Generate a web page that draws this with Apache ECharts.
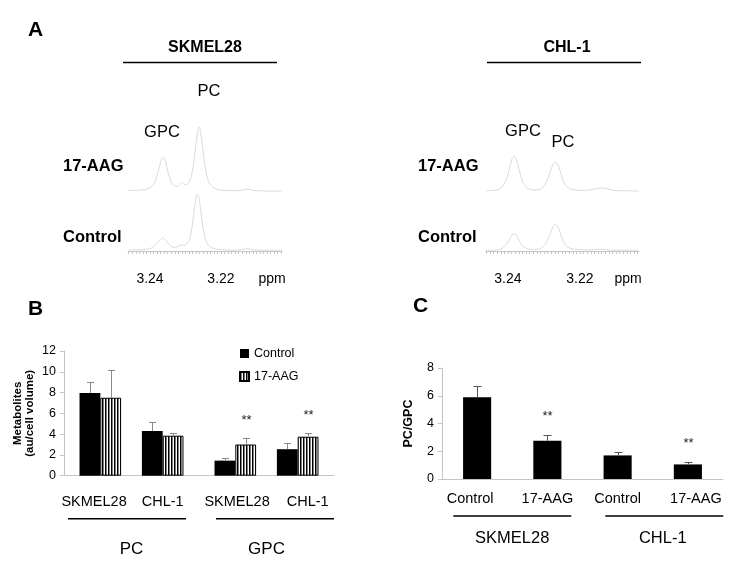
<!DOCTYPE html>
<html><head><meta charset="utf-8">
<script src="https://cdn.jsdelivr.net/npm/echarts@6/dist/echarts.min.js"></script>
<style>html,body{margin:0;padding:0;background:#fff}#c{width:750px;height:563px}</style>
</head><body><div id="c"></div>
<script>
const FONT = '"Liberation Sans", Arial, Helvetica, sans-serif';

// ---------- Panel A : 1H-NMR spectra (ppm, intensity a.u.) ----------
const skPpm = [3.24620,3.24423,3.24225,3.24056,3.23944,3.23859,3.23775,3.23718,3.23662,3.23634,3.23606,3.23549,3.23493,3.23408,3.23324,3.23239,3.23155,3.23099,3.23042,3.22986,3.22901,3.22845,3.22789,3.22732,3.22676,3.22648,3.22620,3.22592,3.22563,3.22507,3.22451,3.22366,3.22254,3.22085,3.21887,3.21606,3.21380,3.21239,3.21099,3.20845,3.20563,3.20282];
const skAAG  = [2,2,2.5,4,7,13,25,35,42,44,43,36,25,13,8,7,10,12,10,9,12,18,30,50,70,78,81,79,72,52,33,15,7,3,2,1.5,2.5,3.5,2,1.5,1,1.5];
const skCtrl = [1,1.5,1.5,2.5,4,7,11,14,16,16,15.5,13,10,6,4.5,5,7,8,7,8,13,22,38,58,71,70,66,58,48,30,17,8,4,2,1.5,1,2,3,1.5,1,1,1];
const chlPpm = [3.24611,3.24444,3.24278,3.24167,3.24083,3.24000,3.23944,3.23889,3.23833,3.23778,3.23722,3.23667,3.23583,3.23472,3.23361,3.23222,3.23083,3.22972,3.22889,3.22806,3.22750,3.22694,3.22667,3.22639,3.22583,3.22528,3.22472,3.22389,3.22278,3.22111,3.21889,3.21667,3.21500,3.21389,3.21278,3.21111,3.20889,3.20611,3.20361];
const chlAAG  = [1.5,2,3,6,12,22,32,41,44.5,42,34,24,12,5,3,2.5,4,9,17,28,34,37,37,36,31,23,15,8,4,2.5,2,3,4.5,5,4.5,2.5,1.5,1.5,1];
const chlCtrl = [1,1,1.5,3,6,11,16,20,21.5,20.5,16,11,6,3,2,2,3.5,8,15,24,30,33,33,32,27,20,13,7,3.5,2,1.5,1.5,2,2,1.5,1,1,1,1];
const ppmTickLabels = [3.24, 3.22];
const skRange = [3.2028, 3.2462];
const chlRange = [3.2036, 3.2461];

// ---------- Panel B : metabolites (au/cell volume) ----------
const bMetabolites = ['PC', 'GPC'];
const bCellLines = ['SKMEL28', 'CHL-1'];
const skControl = [7.95, 1.45],  skControlErr = [1.1, 0.3];
const sk17AAG   = [7.5, 3.0],    sk17AAGErr   = [2.65, 0.6];
const chlControl = [4.3, 2.55],  chlControlErr = [0.9, 0.55];
const chl17AAG   = [3.85, 3.75], chl17AAGErr   = [0.3, 0.35];
const sk17AAGSig  = ['', '**'];
const chl17AAGSig = ['', '**'];
const bYTicks = [0, 2, 4, 6, 8, 10, 12];

// ---------- Panel C : PC/GPC ratio ----------
const cTreatments = ['Control', '17-AAG', 'Control', '17-AAG'];
const cCellLines = ['SKMEL28', 'CHL-1'];
const cRatio = [5.9, 2.75, 1.7, 1.05];
const cRatioErr = [0.8, 0.45, 0.25, 0.15];
const cSig = ['', '**', '', '**'];

// minor ppm ticks every 0.001
const ppmMinorTicks = [];
for (let k = 3203; k <= 3246; k++) ppmMinorTicks.push(k / 1000);

const stripe = (() => {
  const c = document.createElement('canvas'); c.width = 3; c.height = 6;
  const g = c.getContext('2d');
  g.fillStyle = '#fff'; g.fillRect(0, 0, 3, 6);
  g.fillStyle = '#000'; g.fillRect(0, 0, 1.5, 6);
  return c;
})();

const zip = (xs, ys) => xs.map((x, i) => [x, ys[i]]);
const AX = '#c4c4c4';

function specX(gi, range, visible) {
  const a = { type: 'value', gridIndex: gi, min: range[0], max: range[1], inverse: true, show: visible };
  if (visible) Object.assign(a, {
    offset: 10,
    axisLine: { show: true, lineStyle: { color: AX, width: 1 } },
    axisTick: { show: true, length: 3, customValues: ppmMinorTicks, lineStyle: { color: AX } },
    axisLabel: { show: true, customValues: ppmTickLabels, formatter: v => v.toFixed(2), fontSize: 14, color: '#000', margin: 11, fontFamily: FONT },
    splitLine: { show: false }
  });
  return a;
}
function specY(gi) { return { type: 'value', gridIndex: gi, min: 0, max: 100, show: false }; }
function specLine(name, ai, ppm, vals) {
  return { type: 'line', name, xAxisIndex: ai, yAxisIndex: ai, data: zip(ppm, vals), showSymbol: false,
    smooth: 0.3, lineStyle: { color: '#dadada', width: 1 }, silent: true };
}
function barB(name, data) {
  return { type: 'bar', name, xAxisIndex: 4, yAxisIndex: 4, data, barGap: '0%', barCategoryGap: '23%',
    itemStyle: name === '17-AAG' ? { color: { image: stripe, repeat: 'repeat' }, borderColor: '#000', borderWidth: 1 } : { color: '#000' } };
}
function errSeries(ai, vals, errs, sigs, slot, nSlots, gap, color, capW, starGap) {
  return {
    type: 'custom', name: 'err' + ai + '_' + slot, xAxisIndex: ai, yAxisIndex: ai, silent: true, z: 5,
    data: vals.map((v, i) => [i, v, errs[i]]),
    renderItem(params, api) {
      const ci = api.value(0), v = api.value(1), e = api.value(2);
      const p0 = api.coord([ci, v]), p1 = api.coord([ci, v + e]);
      const band = api.size([1, 0])[0];
      const total = band * (1 - gap), bw = total / nSlots;
      const x = Math.round(p0[0] - total / 2 + (slot + 0.5) * bw) + 0.5;
      const yt = Math.round(p1[1]) + 0.5;
      const ch = [
        { type: 'line', shape: { x1: x, y1: p0[1], x2: x, y2: yt }, style: { stroke: color, lineWidth: 1 } },
        { type: 'line', shape: { x1: x - capW / 2, y1: yt, x2: x + capW / 2, y2: yt }, style: { stroke: color, lineWidth: 1 } }
      ];
      const s = sigs && sigs[params.dataIndex];
      if (s) ch.push({ type: 'text', x: x, y: yt - starGap, style: { text: s, fill: '#222', fontSize: 13, fontFamily: FONT, align: 'center', verticalAlign: 'middle' } });
      return { type: 'group', children: ch };
    }
  };
}
function txt(text, x, y, size, bold, align) {
  return { type: 'text', x, y, silent: true, style: { text, fontSize: size, fontWeight: bold ? 'bold' : 'normal', fontFamily: FONT, fill: '#000', align: align || 'center', verticalAlign: 'middle' } };
}
function hline(x1, x2, y) {
  return { type: 'line', silent: true, shape: { x1, y1: y, x2, y2: y }, style: { stroke: '#000', lineWidth: 1.5 } };
}

const option = {
  animation: false,
  backgroundColor: '#fff',
  textStyle: { fontFamily: FONT },
  grid: [
    { left: 128, top: 112, width: 154, height: 80 },
    { left: 128, top: 171, width: 154, height: 80 },
    { left: 486, top: 112, width: 153, height: 80 },
    { left: 486, top: 171, width: 153, height: 80 },
    { left: 64, top: 351, width: 270, height: 124.7 },
    { left: 442, top: 368, width: 281, height: 111 }
  ],
  xAxis: [
    specX(0, skRange, false), specX(1, skRange, true), specX(2, chlRange, false), specX(3, chlRange, true),
    {
      type: 'category', gridIndex: 4, data: bMetabolites,
      axisLine: { lineStyle: { color: AX } }, axisTick: { length: 4, lineStyle: { color: AX } },
      axisLabel: {
        interval: 0, margin: 13, color: '#000',
        formatter: (v, i) => i === 0
          ? `{cl|${bCellLines[0]}}{g15|}{cl|${bCellLines[1]}}{p18|}\n{hr|}{p9|}\n{grp|${v}}`
          : `{cl|${bCellLines[0]}}{g17|}{cl|${bCellLines[1]}}\n{p17|}{hr|}\n{grp|${v}}`,
        rich: {
          cl: { fontSize: 14.5, lineHeight: 26, color: '#000', fontFamily: FONT },
          g15: { width: 15, lineHeight: 26 }, g17: { width: 17, lineHeight: 26 }, p18: { width: 18, lineHeight: 26 },
          hr: { width: 118, height: 1.5, lineHeight: 8, backgroundColor: '#000' },
          p9: { width: 9, height: 1, lineHeight: 8 }, p17: { width: 17, height: 1, lineHeight: 8 },
          grp: { fontSize: 17, lineHeight: 54, color: '#000', fontFamily: FONT }
        }
      }
    },
    {
      type: 'category', gridIndex: 5, data: cTreatments,
      axisLine: { lineStyle: { color: AX } }, axisTick: { length: 4, lineStyle: { color: AX } },
      axisLabel: {
        interval: 0, margin: 10, color: '#000',
        formatter: (v, i) => i === 0 ? `{t|${v}}{p14|}` : i === 3 ? `{p16|}{t|${v}}` : `{t|${v}}`,
        rich: {
          t: { fontSize: 14.5, lineHeight: 20, color: '#000', fontFamily: FONT },
          p14: { width: 14, lineHeight: 20 }, p16: { width: 16, lineHeight: 20 }
        }
      }
    },
    {
      type: 'category', gridIndex: 5, data: cCellLines, position: 'bottom', offset: 0,
      axisLine: { show: false }, axisTick: { show: false },
      axisLabel: {
        interval: 0, margin: 33, color: '#000',
        formatter: (v, i) => i === 0 ? `{hr|}\n{g|${v}}` : `{p23|}{hr|}\n{p20|}{g|${v}}`,
        rich: {
          hr: { width: 118, height: 1.5, lineHeight: 8, backgroundColor: '#000' },
          p23: { width: 23, height: 1, lineHeight: 8 }, p20: { width: 20, lineHeight: 36 },
          g: { fontSize: 16.5, lineHeight: 36, color: '#000', fontFamily: FONT }
        }
      }
    }
  ],
  yAxis: [
    specY(0), specY(1), specY(2), specY(3),
    {
      type: 'value', gridIndex: 4, min: bYTicks[0], max: bYTicks[bYTicks.length - 1], interval: 2,
      axisLine: { show: true, lineStyle: { color: AX } }, axisTick: { show: true, length: 4, lineStyle: { color: AX } },
      splitLine: { show: false },
      axisLabel: { fontSize: 12.5, color: '#000', margin: 8 },
      name: 'Metabolites\n(au/cell volume)', nameLocation: 'middle', nameGap: 28, nameRotate: 90,
      nameTextStyle: { fontSize: 11.5, fontWeight: 'bold', color: '#000', lineHeight: 12 }
    },
    {
      type: 'value', gridIndex: 5, min: 0, max: 8, interval: 2,
      axisLine: { show: true, lineStyle: { color: AX } }, axisTick: { show: true, length: 4, lineStyle: { color: AX } },
      splitLine: { show: false },
      axisLabel: { fontSize: 12.5, color: '#000', margin: 8 },
      name: 'PC/GPC', nameLocation: 'middle', nameGap: 27, nameRotate: 90,
      nameTextStyle: { fontSize: 12.5, fontWeight: 'bold', color: '#000' }
    }
  ],
  legend: {
    data: ['Control', '17-AAG'], orient: 'vertical', left: 239, top: 347, padding: 0,
    itemWidth: 9, itemHeight: 9, itemGap: 10, icon: 'rect',
    textStyle: { fontSize: 12.5, color: '#000', fontFamily: FONT }, selectedMode: false
  },
  series: [
    specLine('SKMEL28 17-AAG', 0, skPpm, skAAG),
    specLine('SKMEL28 Control', 1, skPpm, skCtrl),
    specLine('CHL-1 17-AAG', 2, chlPpm, chlAAG),
    specLine('CHL-1 Control', 3, chlPpm, chlCtrl),
    barB('Control', skControl),
    barB('17-AAG', sk17AAG),
    { type: 'bar', name: 'spacer', xAxisIndex: 4, yAxisIndex: 4, data: ['-', '-'], barGap: '0%', barCategoryGap: '23%' },
    barB('Control', chlControl),
    barB('17-AAG', chl17AAG),
    errSeries(4, skControl, skControlErr, null, 0, 5, 0.23, '#8a8a8a', 7, 18),
    errSeries(4, sk17AAG, sk17AAGErr, sk17AAGSig, 1, 5, 0.23, '#8a8a8a', 7, 18),
    errSeries(4, chlControl, chlControlErr, null, 3, 5, 0.23, '#8a8a8a', 7, 18),
    errSeries(4, chl17AAG, chl17AAGErr, chl17AAGSig, 4, 5, 0.23, '#8a8a8a', 7, 18),
    { type: 'bar', name: 'PC/GPC', xAxisIndex: 5, yAxisIndex: 5, data: cRatio, barCategoryGap: '60%', itemStyle: { color: '#000' } },
    errSeries(5, cRatio, cRatioErr, cSig, 0, 1, 0.6, '#555', 8, 19)
  ],
  graphic: [
    txt('A', 28, 30, 21, true, 'left'),
    txt('SKMEL28', 205, 48, 16, true), hline(123, 277, 62.5),
    txt('CHL-1', 567, 48, 16, true), hline(487, 641, 62.5),
    txt('PC', 209, 91, 16.5), txt('GPC', 162, 132.5, 16.5),
    txt('GPC', 523, 131, 16.5), txt('PC', 563, 142.5, 16.5),
    txt('17-AAG', 63, 166.5, 16.5, true, 'left'), txt('Control', 63, 237.5, 16.5, true, 'left'),
    txt('17-AAG', 418, 166.5, 16.5, true, 'left'), txt('Control', 418, 237.5, 16.5, true, 'left'),
    txt('ppm', 272, 279, 14), txt('ppm', 628, 279, 14),
    txt('B', 28, 309.5, 21, true, 'left'),
    txt('C', 413, 306.5, 21, true, 'left')
  ]
};
const chart = echarts.init(document.getElementById('c'), null, { renderer: 'canvas' });
chart.setOption(option);
</script>
</body></html>
